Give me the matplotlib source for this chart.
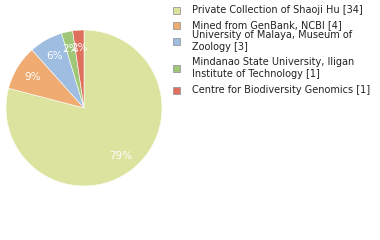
import matplotlib
matplotlib.use("Agg")
import matplotlib.pyplot as plt
from matplotlib.patches import Rectangle

labels = ["Private Collection of Shaoji Hu [34]",
          "Mined from GenBank, NCBI [4]",
          "University of Malaya, Museum of\nZoology [3]",
          "Mindanao State University, Iligan\nInstitute of Technology [1]",
          "Centre for Biodiversity Genomics [1]"]
counts = [34, 4, 3, 1, 1]
colors = ["#dce39e", "#efab72", "#9ebde0", "#9fc777", "#df705e"]

fig = plt.figure(figsize=(3.8, 2.4), dpi=100)
ax = fig.add_axes([0.0158, 0.225, 0.4105, 0.65])
ax.pie(counts, colors=colors, startangle=90, counterclock=False,
       autopct=lambda p: "%d%%" % int(p), pctdistance=0.77,
       wedgeprops=dict(linewidth=0.4, edgecolor="white"),
       textprops=dict(color="white", fontsize=7.5))
ax.set_xlim(-1, 1)
ax.set_ylim(-1, 1)
ax.set_aspect("equal")

# legend drawn by hand
ys = [10, 25, 41, 68, 90]
for lab, c, y in zip(labels, colors, ys):
    fig.patches.append(Rectangle((173 / 380, 1 - (y + 4) / 240), 7 / 380, 7 / 240,
                                 transform=fig.transFigure, facecolor=c,
                                 edgecolor="#999999", linewidth=0.6))
    fig.text(192 / 380, 1 - y / 240, lab, fontsize=7, va="center", ha="left",
             color="#222222", linespacing=1.2)

fig.savefig("out.png", dpi=100)
